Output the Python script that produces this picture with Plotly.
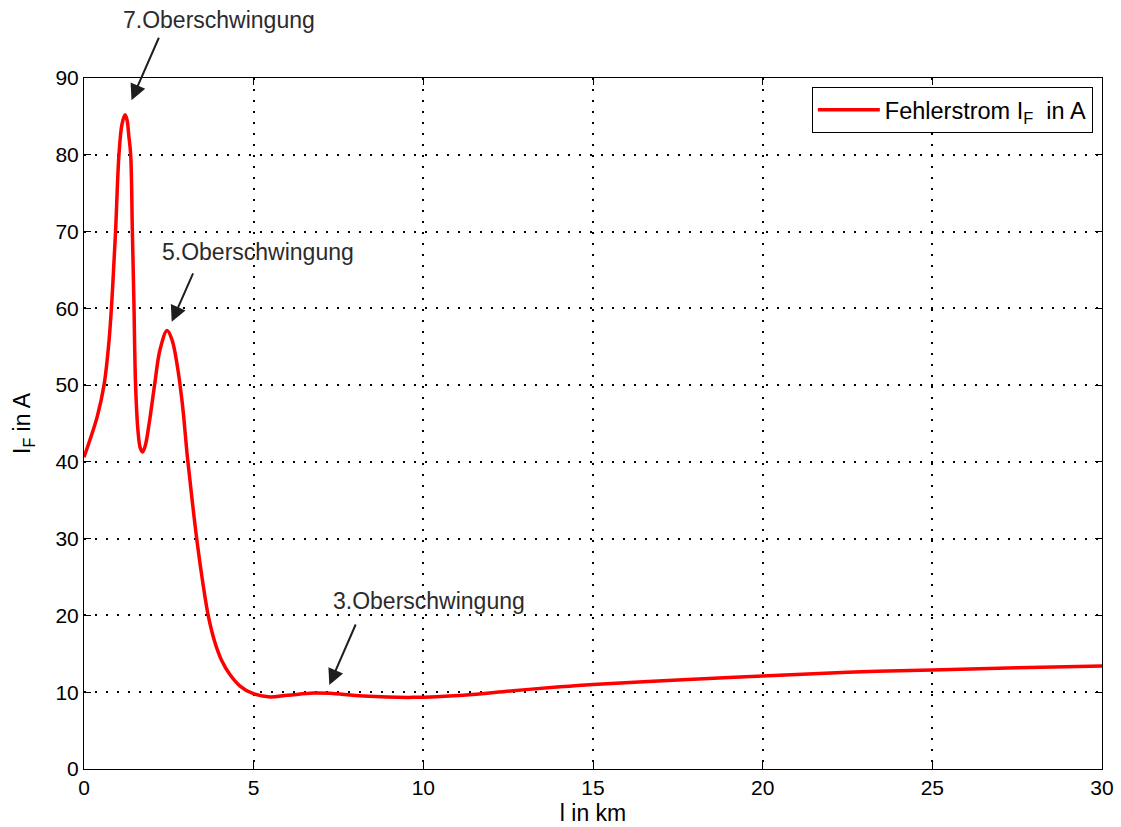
import plotly.graph_objects as go

# Fault current along the line (distance in km, current in A)
distance_km = [0, 0.2, 0.39, 0.59, 0.74, 0.84, 0.93, 1.03, 1.12, 1.21, 1.27, 1.32,
               1.376, 1.425, 1.47, 1.52, 1.59, 1.66, 1.73, 1.81, 1.92, 2.08, 2.24,
               2.45, 2.6, 2.75, 2.9, 3.05, 3.2, 3.35, 3.5, 3.66, 3.85, 4.05, 4.3,
               4.6, 4.94, 5.43, 6.0, 6.76, 7.25, 8.23, 9.7, 11.18, 12.65, 14.03,
               15, 17.5, 20, 22.5, 25, 27.5, 30]
fault_current = [40.6, 43.2, 45.9, 50, 55.9, 62.4, 70, 80, 84.0, 85.2, 84.5, 82.5,
                 80, 70, 61, 50, 44.1, 41.8, 41.3, 42.2, 45, 50, 54.6,
                 57.1, 55.8, 52.5, 47.5, 40.5, 34.5, 29.0, 24.3, 20.0, 16.6, 14.2, 12.3,
                 10.8, 9.9, 9.4, 9.6, 9.9, 9.85, 9.5, 9.33, 9.6, 10.2, 10.7,
                 11.0, 11.6, 12.1, 12.6, 12.9, 13.2, 13.4]

x_ticks = [0, 5, 10, 15, 20, 25, 30]
y_ticks = [0, 10, 20, 30, 40, 50, 60, 70, 80, 90]

# Harmonic labels and the arrows pointing at their peaks
harmonic_labels = ["7.Oberschwingung", "5.Oberschwingung", "3.Oberschwingung"]
label_x = [3.98, 5.13, 10.17]          # data units
label_y = [1.084, 0.748, 0.243]        # fraction of plot height
tip_x = [1.40, 2.585, 7.23]
tip_y = [87.1, 58.24, 10.94]
tail_dx = [28, 22, 27]                 # arrow tail offset, px
tail_dy = [-64, -50, -62]

FONT = "Liberation Sans, Arial, Helvetica, sans-serif"

fig = go.Figure()
fig.add_trace(go.Scatter(
    x=distance_km, y=fault_current, mode="lines",
    line=dict(color="#ff0000", width=3.5, shape="spline", smoothing=1.0),
    name="Fehlerstrom I<sub>F</sub>  in A",
))

for txt, lx, ly in zip(harmonic_labels, label_x, label_y):
    fig.add_annotation(x=lx, y=ly, xref="x", yref="paper", text=txt,
                       showarrow=False, xanchor="center", yanchor="middle",
                       font=dict(family=FONT, size=23, color="#2b2b2b"))

for tx, ty, dx, dy in zip(tip_x, tip_y, tail_dx, tail_dy):
    fig.add_annotation(x=tx, y=ty, text="", showarrow=True,
                       ax=dx, ay=dy, axref="pixel", ayref="pixel",
                       arrowhead=2, arrowsize=1.6, arrowwidth=2,
                       arrowcolor="#1e1e1e", standoff=0)

axis_common = dict(
    showline=True, linecolor="black", linewidth=1, mirror="allticks",
    ticks="inside", ticklen=7, tickcolor="black", tickwidth=1,
    showgrid=True, gridcolor="black", gridwidth=2, griddash="2px,9px",
    zeroline=False, automargin=False,
    tickfont=dict(family=FONT, size=21, color="black"),
)

fig.update_layout(
    width=1121, height=827,
    margin=dict(l=84, r=19, t=78, b=58),
    paper_bgcolor="white", plot_bgcolor="white",
    font=dict(family=FONT, size=21, color="black"),
    xaxis=dict(range=[0, 30], tickvals=x_ticks,
               title=dict(text="l in km", standoff=6,
                          font=dict(family=FONT, size=23)),
               **axis_common),
    yaxis=dict(range=[0, 90], tickvals=y_ticks,
               title=dict(text="I<sub>F</sub> in A", standoff=18,
                          font=dict(family=FONT, size=23)),
               **axis_common),
    showlegend=True,
    legend=dict(x=0.991, y=0.987, xanchor="right", yanchor="top",
                bgcolor="white", bordercolor="black", borderwidth=1,
                font=dict(family=FONT, size=23.5, color="black"),
                itemwidth=62),
)

fig.write_html("out.html")
